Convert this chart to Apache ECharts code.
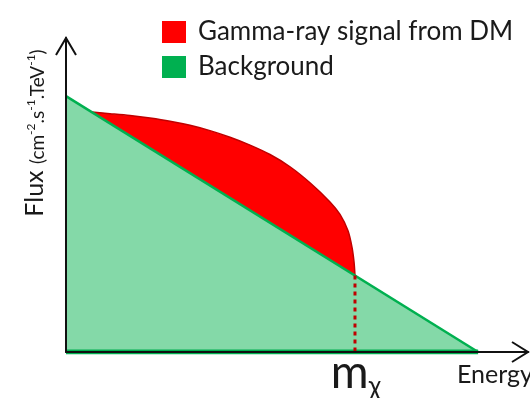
<!DOCTYPE html>
<html>
<head>
<meta charset="utf-8">
<script src="https://cdn.jsdelivr.net/npm/echarts@6/dist/echarts.min.js"></script>
<style>
  html, body { margin: 0; padding: 0; background: #fff; }
  #chart { width: 530px; height: 398px; }
</style>
</head>
<body>
<div id="chart"></div>
<script>
// Axes in arbitrary units: energy 0..100, flux 0..100
const energyMax = 100;
const fluxMax = 100;

// Dark-matter particle mass (cut-off of the signal)
const mChi = 62.55;

// Background spectrum: a straight falling line
const backgroundEnergy = [0, 89.2];
const backgroundFlux = [81.5, 0];

// Upper edge of the total flux (background + DM gamma-ray signal)
const signalEnergy = [5.63, 9.52, 13.85, 18.18, 22.51, 26.84, 31.17, 35.50, 39.83, 44.16, 48.48, 52.81, 57.14, 59.31, 61.04, 61.90, 62.34, 62.55];
const signalFlux   = [76.4, 75.9, 75.3, 74.5, 73.5, 72.2, 70.5, 68.4, 65.9, 62.9, 59.0, 53.9, 47.8, 43.8, 38.6, 33.4, 28.7, 24.35];

const legendNames = ['Gamma-ray signal from DM', 'Background'];
const xName = 'Energy';

function backgroundAt(e) {
  const [e0, e1] = backgroundEnergy, [f0, f1] = backgroundFlux;
  return f0 + (f1 - f0) * (e - e0) / (e1 - e0);
}

const chart = echarts.init(document.getElementById('chart'));
const FONT = 'Lato, "Open Sans", sans-serif';

chart.setOption({
  animation: false,
  grid: { left: 66, right: 2, top: 38, bottom: 46 },
  xAxis: {
    type: 'value', min: 0, max: energyMax, z: 10,
    axisLine: { show: true, onZero: false, lineStyle: { color: '#111', width: 2 } },
    axisTick: { show: false }, axisLabel: { show: false }, splitLine: { show: false }
  },
  yAxis: {
    type: 'value', min: 0, max: fluxMax, z: 10,
    axisLine: { show: true, onZero: false, lineStyle: { color: '#111', width: 2 } },
    axisTick: { show: false }, axisLabel: { show: false }, splitLine: { show: false }
  },
  legend: {
    orient: 'vertical', left: 157, top: 14,
    itemWidth: 24, itemHeight: 22, itemGap: 9,
    icon: 'rect', selectedMode: false,
    itemStyle: { borderWidth: 0 },
    data: [
      { name: legendNames[0], itemStyle: { color: '#ff0000' } },
      { name: legendNames[1], itemStyle: { color: '#00b050' } }
    ],
    textStyle: { fontFamily: FONT, fontSize: 26, color: '#1a1a1a', padding: [0, 0, 0, 7] }
  },
  series: [
    {
      name: legendNames[0], type: 'line', z: 2,
      data: signalEnergy.map((e, i) => [e, signalFlux[i]]),
      smooth: 0.3, showSymbol: false, symbol: 'none',
      itemStyle: { color: '#ff0000' },
      lineStyle: { color: '#c00000', width: 1.5 },
      areaStyle: { color: '#ff0000', opacity: 1 }
    },
    {
      name: legendNames[1], type: 'line', z: 3,
      data: backgroundEnergy.map((e, i) => [e, backgroundFlux[i]]),
      showSymbol: false, symbol: 'none',
      itemStyle: { color: '#00b050' },
      lineStyle: { color: '#00b050', width: 2.5 },
      areaStyle: { color: '#84d9a8', opacity: 1 }
    },
    {
      // green lower edge of the background region, along the energy axis
      name: 'backgroundBase', type: 'line', z: 3,
      data: [[0, 0], [backgroundEnergy[1], 0]],
      showSymbol: false, symbol: 'none',
      lineStyle: { color: '#00b050', width: 5 }
    },
    {
      name: 'mchi', type: 'line', z: 4,
      data: [[mChi, backgroundAt(mChi)], [mChi, 0]],
      showSymbol: false, symbol: 'none',
      lineStyle: { color: '#c00000', width: 3, type: [4, 4] }
    }
  ]
});

// Arrow heads, axis titles and the m_chi marker placed from the axis scales
const origin = chart.convertToPixel('grid', [0, 0]);
const xEnd = chart.convertToPixel('grid', [energyMax, 0]);
const yEnd = chart.convertToPixel('grid', [0, fluxMax]);
const mPix = chart.convertToPixel('grid', [mChi, 0]);

chart.setOption({
  graphic: [
    {
      type: 'polyline', z: 20,
      shape: { points: [[yEnd[0] - 10, yEnd[1] + 17], [yEnd[0], yEnd[1]], [yEnd[0] + 10, yEnd[1] + 17]] },
      style: { stroke: '#111', lineWidth: 2, fill: null }
    },
    {
      type: 'polyline', z: 20,
      shape: { points: [[xEnd[0] - 16, xEnd[1] - 10], [xEnd[0], xEnd[1]], [xEnd[0] - 16, xEnd[1] + 10]] },
      style: { stroke: '#111', lineWidth: 2, fill: null }
    },
    {
      type: 'text', z: 20,
      x: 34, y: 133, rotation: Math.PI / 2,
      style: {
        text: '{a|Flux }{b|(cm}{s|-2}{b|.s}{s|-1}{b|.TeV}{s|-1}{b|)}',
        textAlign: 'center', textVerticalAlign: 'middle',
        align: 'center', verticalAlign: 'middle',
        rich: {
          a: { fontFamily: FONT, fontSize: 25, fill: '#1a1a1a', lineHeight: 26, verticalAlign: 'bottom' },
          b: { fontFamily: FONT, fontSize: 19, fill: '#1a1a1a', lineHeight: 20, verticalAlign: 'bottom' },
          s: { fontFamily: FONT, fontSize: 12, fill: '#1a1a1a', lineHeight: 12, verticalAlign: 'top', padding: [4, 0, 0, 0] }
        }
      }
    },
    {
      type: 'text', z: 20,
      x: 457, y: origin[1] + 10,
      style: { text: xName, fontFamily: FONT, fontSize: 25, fill: '#1a1a1a', textAlign: 'left', textVerticalAlign: 'top' }
    },
    {
      type: 'text', z: 20,
      x: mPix[0] + 1, y: mPix[1] - 2,
      style: {
        text: '{m|m}{c|χ}',
        textAlign: 'center', textVerticalAlign: 'top',
        align: 'center', verticalAlign: 'top',
        rich: {
          m: { fontFamily: FONT, fontSize: 46, fill: '#1a1a1a', lineHeight: 50, verticalAlign: 'top' },
          c: { fontFamily: FONT, fontSize: 26, fill: '#1a1a1a', lineHeight: 50, verticalAlign: 'bottom' }
        }
      }
    }
  ]
});
</script>
</body>
</html>
